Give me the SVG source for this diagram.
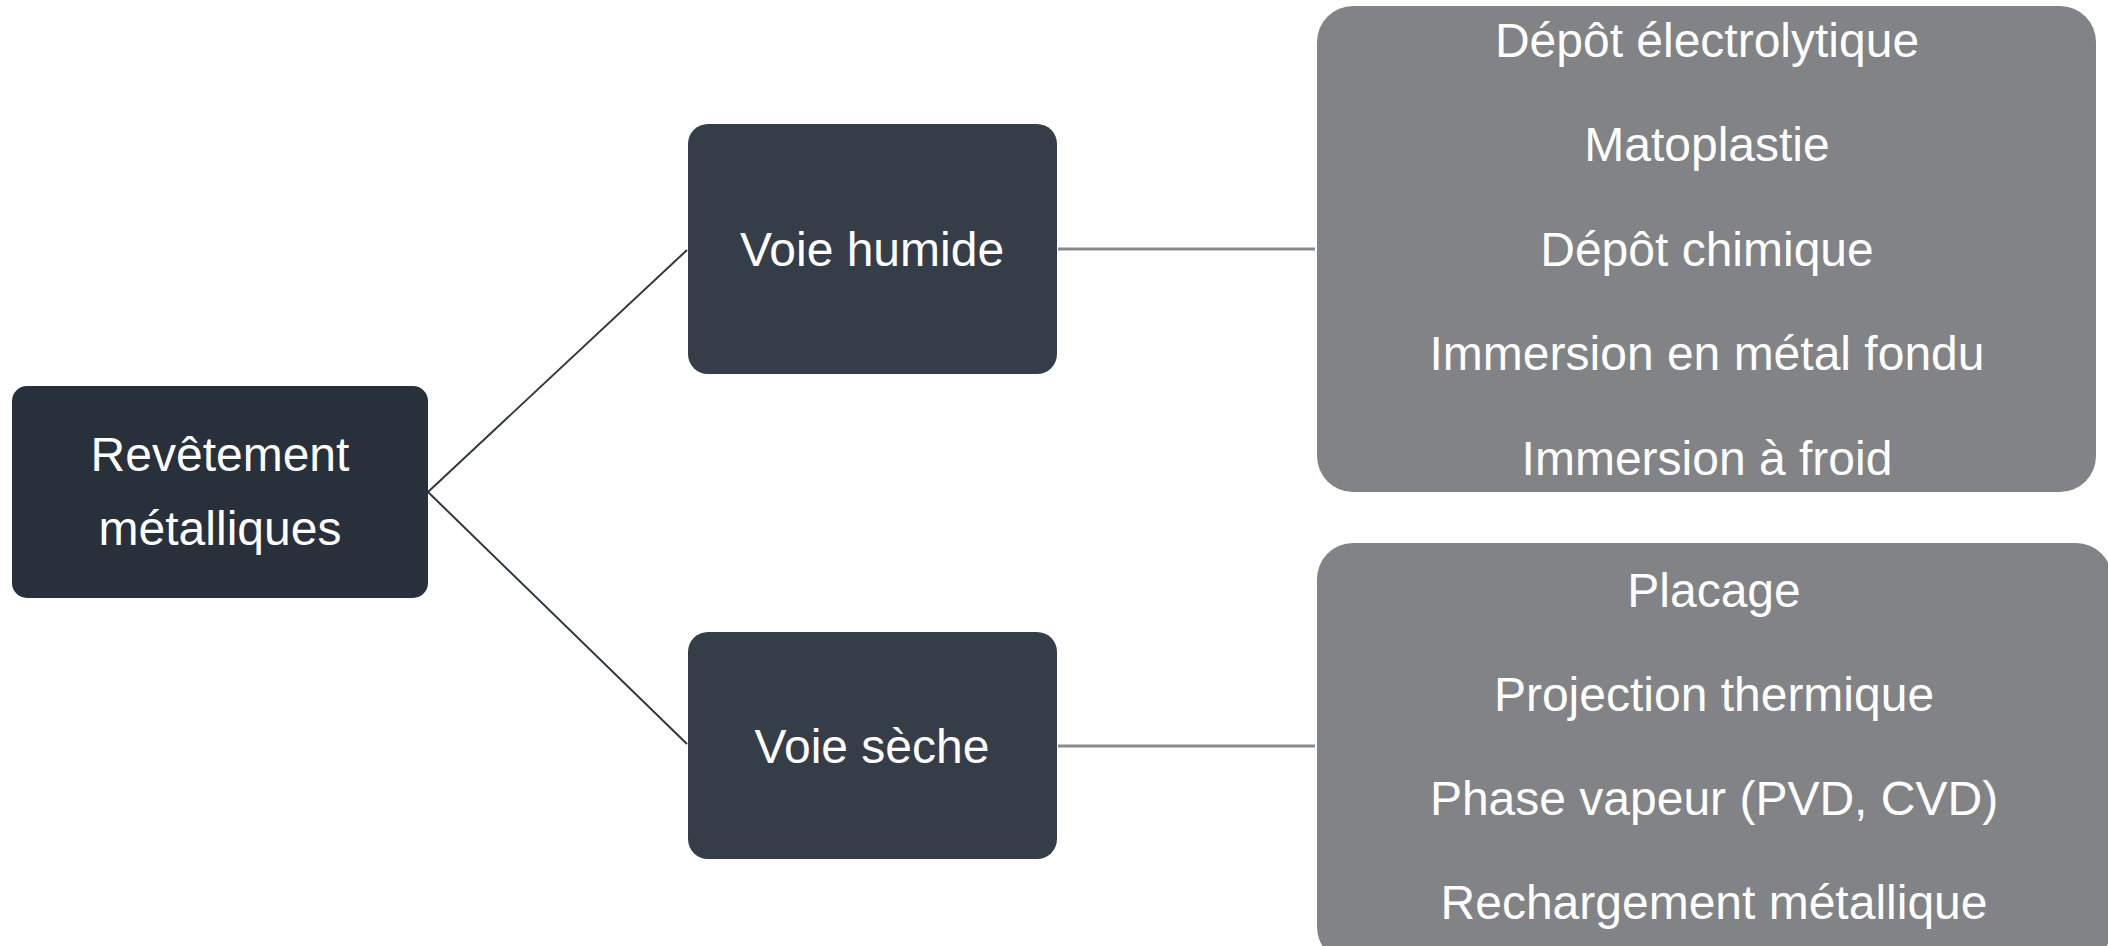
<svg xmlns="http://www.w3.org/2000/svg" width="2108" height="946" viewBox="0 0 2108 946">
<style>
text { font-family: "Liberation Sans", Arial, sans-serif; font-size: 48px; fill: #ffffff; text-anchor: middle; }
.root { fill: #27303b; }
.mid { fill: #353e48; }
.leaf { fill: #818386; }
.c1 { stroke: #2f3740; stroke-width: 2; fill: none; }
.c2 { stroke: #88898b; stroke-width: 3; fill: none; }
</style>
<rect width="2108" height="946" fill="#ffffff"/>
<g id="connectors">
<line class="c1" x1="428" y1="492" x2="687" y2="250"/>
<line class="c1" x1="428" y1="492" x2="687" y2="744"/>
<line class="c2" x1="1058" y1="249" x2="1315" y2="249"/>
<line class="c2" x1="1058" y1="746" x2="1315" y2="746"/>
</g>
<g id="node-root">
<rect class="root" x="12" y="386" width="416" height="212" rx="15"/>
<text x="220" y="471">Revêtement</text>
<text x="220" y="545">métalliques</text>
</g>
<g id="node-humide">
<rect class="mid" x="688" y="124" width="369" height="250" rx="20"/>
<text x="872" y="266">Voie humide</text>
</g>
<g id="node-seche">
<rect class="mid" x="688" y="632" width="369" height="227" rx="20"/>
<text x="872" y="763">Voie sèche</text>
</g>
<g id="node-humide-list">
<rect class="leaf" x="1317" y="6" width="779" height="486" rx="36"/>
<text x="1707" y="57">Dépôt électrolytique</text>
<text x="1707" y="161">Matoplastie</text>
<text x="1707" y="266">Dépôt chimique</text>
<text x="1707" y="370">Immersion en métal fondu</text>
<text x="1707" y="475">Immersion à froid</text>
</g>
<g id="node-seche-list">
<rect class="leaf" x="1317" y="543" width="795" height="420" rx="36"/>
<text x="1714" y="607">Placage</text>
<text x="1714" y="711">Projection thermique</text>
<text x="1714" y="815">Phase vapeur (PVD, CVD)</text>
<text x="1714" y="919">Rechargement métallique</text>
</g>
</svg>
